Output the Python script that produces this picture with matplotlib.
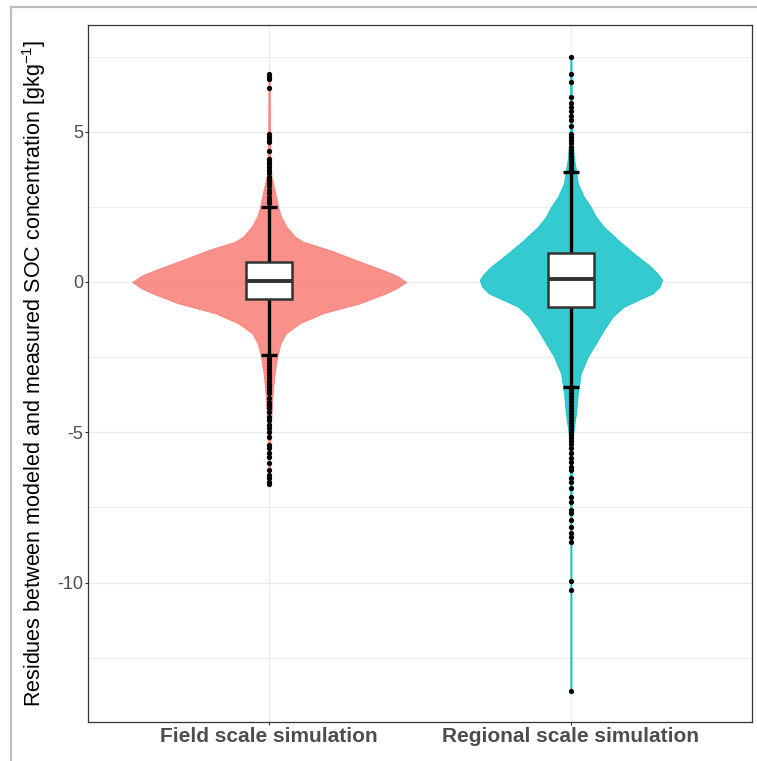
import matplotlib
matplotlib.use('Agg')
import matplotlib.pyplot as plt
from matplotlib.patches import Rectangle
import numpy as np

plt.rcParams.update({
    'font.family':        ['Liberation Sans', 'DejaVu Sans'],
    'mathtext.fontset':   'custom',
    'mathtext.rm':        'Liberation Sans',
    'mathtext.it':        'Liberation Sans',
    'axes.unicode_minus': False,
})

# ── data ─────────────────────────────────────────────────────────────────────
categories = ['Field scale simulation', 'Regional scale simulation']
fills      = ['#F8766D', '#00BFC4']

# violin outlines: residue level vs half-width (x units)
field_vy = [6.92, 5.0, 4.0, 3.5, 3.17, 2.8, 2.5, 2.17, 1.84, 1.51, 1.34, 1.06, 0.73,
            0.40, 0.2, 0.0, -0.2, -0.38, -0.71, -1.04, -1.37, -1.71, -2.04, -2.48,
            -3.15, -3.82, -4.8, -5.8, -6.75]
field_vw = [0.002, 0.003, 0.005, 0.008, 0.016, 0.024, 0.030, 0.040, 0.058, 0.086, 0.113,
            0.202, 0.288, 0.377, 0.425, 0.454, 0.425, 0.387, 0.301, 0.179, 0.103, 0.056,
            0.038, 0.027, 0.017, 0.011, 0.006, 0.003, 0.002]

region_vy = [7.5, 6.0, 5.0, 4.12, 3.67, 3.28, 2.84, 2.5, 2.17, 1.84, 1.40, 0.95, 0.51,
             0.25, 0.07, -0.15, -0.38, -0.82, -1.15, -1.6, -2.04, -2.49, -3.04, -3.70,
             -4.37, -5.0, -5.3, -6.5, -9.0, -13.6]
region_vw = [0.002, 0.003, 0.004, 0.010, 0.018, 0.023, 0.043, 0.066, 0.083, 0.109, 0.156,
             0.209, 0.265, 0.290, 0.302, 0.295, 0.272, 0.176, 0.139, 0.109, 0.083, 0.056,
             0.033, 0.023, 0.017, 0.008, 0.005, 0.003, 0.002, 0.002]

# box statistics: lower whisker, Q1, median, Q3, upper whisker
field_box  = [-2.43, -0.55, 0.03, 0.68, 2.50]
region_box = [-3.50, -0.82, 0.09, 0.95, 3.67]

field_out = [6.92, 6.83, 6.76, 6.46, 4.93, 4.84, 4.73, 4.66, 4.37, 4.08, 4.00, 3.93,
             3.84, 3.73, 3.62, 3.50, 3.39, 3.29, 3.18, 3.06, 2.95, 2.84, 2.73, 2.62,
             -2.52, -2.60, -2.70, -2.80, -2.90, -3.00, -3.10, -3.20, -3.30, -3.40,
             -3.50, -3.60, -3.70, -3.87, -3.98, -4.09, -4.20, -4.32, -4.48, -4.59,
             -4.76, -4.87, -4.98, -5.15, -5.42, -5.53, -5.70, -5.81, -6.03, -6.26,
             -6.42, -6.53, -6.64, -6.73]
region_out = [7.50, 6.92, 6.64, 6.17, 5.95, 5.83, 5.69, 5.53, 5.39, 5.20, 4.91, 4.84,
              4.73, 4.62, 4.50, 4.39, 4.28, 4.18, 4.08, 3.98, 3.88, 3.78, 3.72,
              -3.58, -3.68, -3.78, -3.88, -3.98, -4.08, -4.18, -4.28, -4.38, -4.48,
              -4.58, -4.68, -4.78, -4.88, -4.98, -5.08, -5.18, -5.28, -5.38, -5.53,
              -5.70, -5.87, -5.98, -6.15, -6.26, -6.53, -6.64, -6.87, -7.14, -7.31,
              -7.59, -7.70, -7.92, -8.14, -8.36, -8.48, -8.64, -9.95, -10.25, -13.6]

violins = [(field_vy, field_vw), (region_vy, region_vw)]
boxes   = [field_box, region_box]
outs    = [field_out, region_out]

y_major = [-10, -5, 0, 5]
y_minor = [-12.5, -7.5, -2.5, 2.5, 7.5]

# ── figure ───────────────────────────────────────────────────────────────────
W, H = 757, 761
fig = plt.figure(figsize=(W / 100, H / 100), dpi=100)

# light frame of the original screenshot
fig.add_artist(Rectangle((11 / W, -0.05), 1.1, 1.05 - 7 / H, transform=fig.transFigure,
                         fill=False, edgecolor='#BDBDBD', linewidth=1.6))

ax = fig.add_axes([88 / W, 39 / H, 664 / W, 697 / H])
ax.set_xlim(0.4, 2.6)
ax.set_ylim(-14.64, 8.55)

ax.set_yticks(y_major)
ax.set_yticks(y_minor, minor=True)
ax.set_yticklabels([str(v) for v in y_major])
ax.set_xticks([1, 2])
ax.set_xticklabels(categories, fontweight='bold', fontsize=15, color='#4D4D4D')
ax.tick_params(axis='y', labelsize=13, labelcolor='#4D4D4D', color='#333333',
               length=2.2, width=0.8, pad=1)
ax.tick_params(axis='x', color='#333333', length=2.2, width=0.8, pad=1.5)
ax.tick_params(axis='y', which='minor', length=0)

ax.grid(which='major', color='#EBEBEB', linewidth=1.0, zorder=0)
ax.grid(which='minor', axis='y', color='#EBEBEB', linewidth=0.6, zorder=0)
ax.set_axisbelow(True)
for sp in ax.spines.values():
    sp.set_edgecolor('#333333')
    sp.set_linewidth(0.9)

for i, ((vy, vw), bx, pts, col) in enumerate(zip(violins, boxes, outs, fills)):
    xc = i + 1
    vy = np.asarray(vy)
    vw = np.asarray(vw)
    ax.fill_betweenx(vy, xc - vw, xc + vw, facecolor=col, edgecolor=col,
                     alpha=0.8, linewidth=0.6, zorder=2)
    lo, q1, med, q3, hi = bx
    # whiskers + caps
    ax.plot([xc, xc], [lo, q1], color='black', linewidth=2.4, zorder=3,
            solid_capstyle='butt')
    ax.plot([xc, xc], [q3, hi], color='black', linewidth=2.4, zorder=3,
            solid_capstyle='butt')
    for yv in (lo, hi):
        ax.plot([xc - 0.027, xc + 0.027], [yv, yv], color='black', linewidth=2.4,
                zorder=3, solid_capstyle='butt')
    # box
    ax.add_patch(Rectangle((xc - 0.076, q1), 0.152, q3 - q1, facecolor='white',
                           edgecolor='#333333', linewidth=1.8, zorder=4))
    ax.plot([xc - 0.076, xc + 0.076], [med, med], color='#333333', linewidth=2.8,
            zorder=5, solid_capstyle='butt')
    # outliers
    ax.plot([xc] * len(pts), pts, linestyle='none', marker='o', markersize=3.8,
            color='black', markeredgewidth=0, zorder=6)

ax.set_ylabel(r'Residues between modeled and measured SOC concentration [gkg$^{-1}$]',
              fontsize=15.5, color='black', labelpad=7)

fig.savefig('out.png', dpi=100)
